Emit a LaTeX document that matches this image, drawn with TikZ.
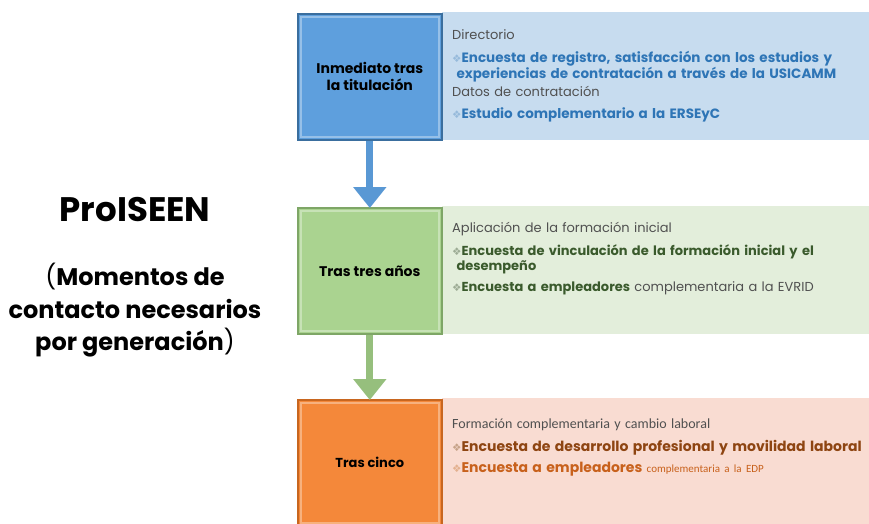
\documentclass[tikz,border=0pt]{standalone}
\usepackage{fontspec}
\setmainfont{Poppins}
\newfontfamily\symfont{DejaVu Sans}
\newfontfamily\narrowfont{Carlito}
\usetikzlibrary{positioning,arrows.meta}
\definecolor{boxblue}{HTML}{5E9FDD}
\definecolor{lineblue}{HTML}{3A6E9E}
\definecolor{panelblue}{HTML}{C7DCEF}
\definecolor{textblue}{HTML}{2E75B6}
\definecolor{boxgreen}{HTML}{AAD390}
\definecolor{linegreen}{HTML}{7EA666}
\definecolor{panelgreen}{HTML}{E3EEDB}
\definecolor{textgreen}{HTML}{3A5A2C}
\definecolor{boxorange}{HTML}{F4883A}
\definecolor{lineorange}{HTML}{C8661F}
\definecolor{panelorange}{HTML}{F9DCD2}
\definecolor{textorange}{HTML}{8E4512}
\definecolor{lightorange}{HTML}{C8611C}
\definecolor{graytext}{HTML}{505050}
\newcommand{\bul}{{\symfont\fontsize{10.5}{12}\selectfont\color{.!50!white}❖}}

\begin{document}
\begin{tikzpicture}[x=1pt,y=-1pt,>=Stealth,
    stagebox/.style={draw=#1!80!black,line width=1.6pt,fill=#1,
      minimum width=144pt,minimum height=126pt,anchor=north west,
      font=\bfseries\fontsize{14}{17}\selectfont,align=center,inner sep=0pt,
      path picture={\draw[white,opacity=.35,line width=2pt]
        ([shift={(3pt,-3pt)}]path picture bounding box.north west) rectangle
        ([shift={(-3pt,3pt)}]path picture bounding box.south east);}},
    panel/.style={fill=#1,minimum width=427pt,minimum height=128pt,
      anchor=north west,inner sep=0pt},
    paneltext/.style={anchor=north west,align=left,inner sep=0pt,
      text width=415pt,font=\fontsize{13}{16}\selectfont,text=graytext},
    stagearrow/.style={line width=7pt,draw=#1,
      -{Triangle[length=21pt,width=32pt]},shorten >=-1pt}]
  \useasboundingbox (0,0) rectangle (869,523);
  % panels behind the boxes
  \node[panel=panelblue] (p1) at (442,12) {};
  \node[panel=panelgreen] (p2) at (442,206) {};
  \node[panel=panelorange] (p3) at (442,398) {};
  \node[stagebox=boxblue,draw=lineblue] (b1) at (297,13)
  {Inmediato tras\\la titulación};
  \node[stagebox=boxgreen,draw=linegreen] (b2) at (297,207)
  {Tras tres años};
  \node[stagebox=boxorange,draw=lineorange,
    font=\bfseries\fontsize{13}{15}\selectfont] (b3) at (297,399)
  {Tras cinco};
  \path (b1.south) edge[stagearrow=boxblue!85!lineblue] (b2.north);
  \path (b2.south) edge[stagearrow=linegreen!45!boxgreen] (b3.north);
  % texts of the panels
  \node[paneltext] (t1) at (452,29) {Directorio\\[7pt]
    {\color{textblue}\bfseries\fontsize{13.5}{16}\selectfont\bul Encuesta de
    registro, satisfacción con los estudios y\\\ experiencias de
    contratación a través de la USICAMM\par}\vspace{2pt}
    Datos de contratación\\[6pt]
    {\color{textblue}\bfseries\fontsize{13.5}{16}\selectfont\bul Estudio
    complementario a la ERSEyC}};
  \node[paneltext] (t2) at (452,222) {Aplicación de la formación inicial\\[8pt]
    {\color{textgreen}\bfseries\fontsize{13}{15}\selectfont\bul Encuesta
    de vinculación de la formación inicial y el\\\ desempeño\par}\vspace{5pt}
    {\color{textgreen}\bfseries\fontsize{13}{15}\selectfont\bul Encuesta
    a empleadores} complementaria a la EVRID};
  \node[paneltext] (t3) at (452,419) {{\narrowfont\fontsize{14}{16}\selectfont
    Formación complementaria y cambio laboral}\\[7pt]
    {\color{textorange}\bfseries\fontsize{14}{16}\selectfont\bul Encuesta
    de desarrollo profesional y movilidad laboral\par}\vspace{5pt}
    {\color{lightorange}\bfseries\fontsize{14}{16}\selectfont\bul Encuesta
    a empleadores} {\color{lightorange}\narrowfont\fontsize{11}{12}\selectfont
    complementaria a la EDP}};
  % title on the left
  \node[font=\bfseries\fontsize{34}{38}\selectfont] (title) at (135,210)
  {ProISEEN};
  \node[font=\bfseries\fontsize{24}{32.5}\selectfont,align=center,
    below=34pt of title] (sub)
  {{\mdseries(}Momentos de\\contacto necesarios\\por generación{\mdseries)}};
\end{tikzpicture}
\end{document}
